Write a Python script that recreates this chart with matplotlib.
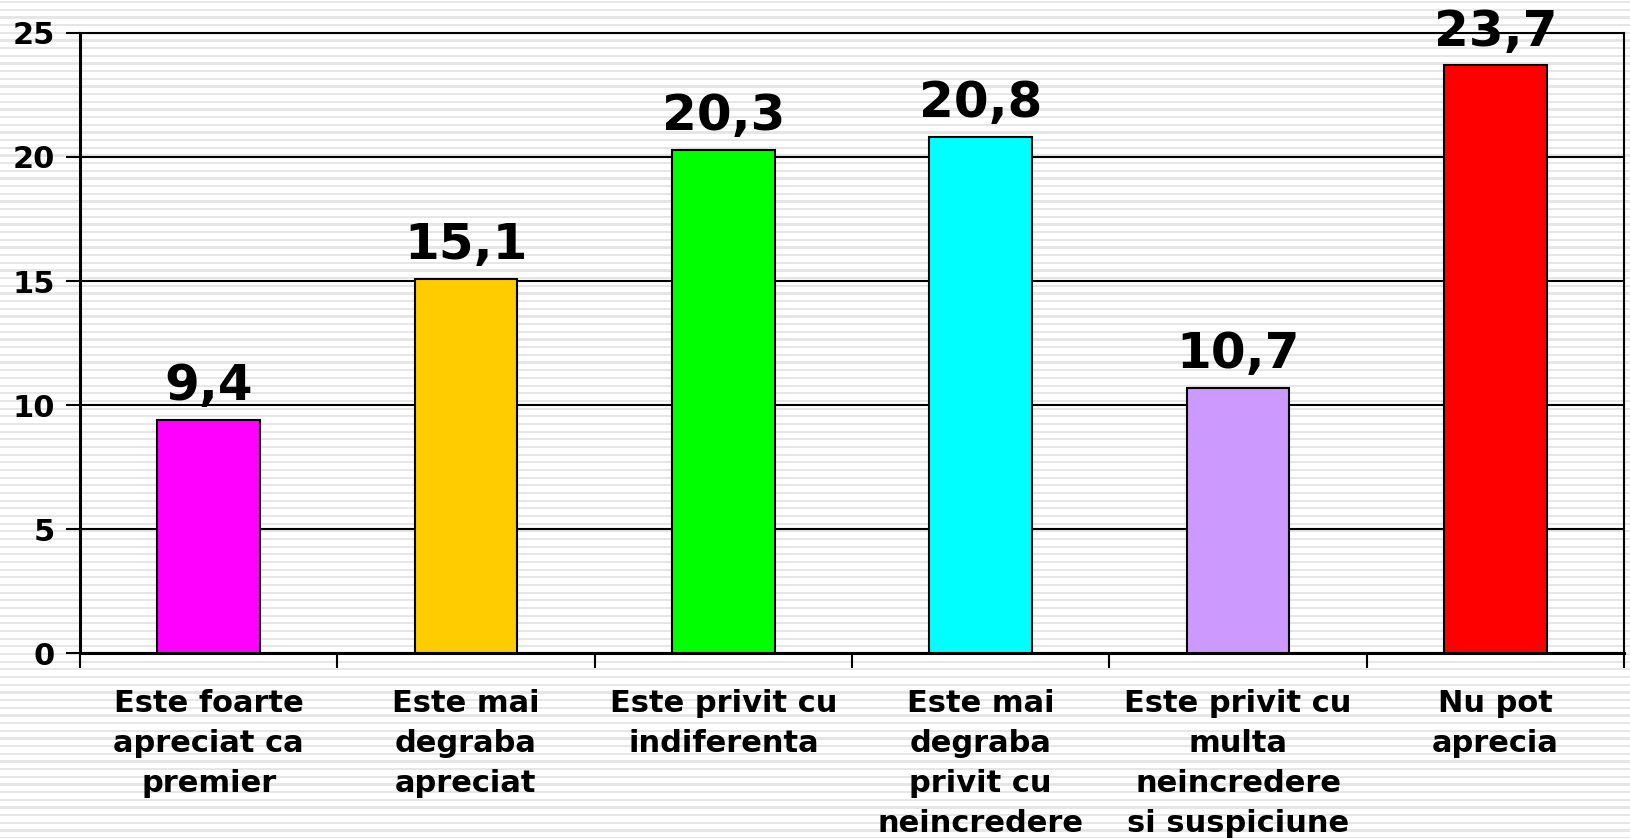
import numpy as np
import matplotlib.pyplot as plt

categories = [
    "Este foarte\napreciat ca\npremier",
    "Este mai\ndegraba\napreciat",
    "Este privit cu\nindiferenta",
    "Este mai\ndegraba\nprivit cu\nneincredere",
    "Este privit cu\nmulta\nneincredere\nsi suspiciune",
    "Nu pot\naprecia",
]
values = [9.4, 15.1, 20.3, 20.8, 10.7, 23.7]
colors = ["#FF00FF", "#FFCC00", "#00FF00", "#00FFFF", "#CC99FF", "#FF0000"]
y_ticks = [0, 5, 10, 15, 20, 25]

W, H = 1630, 838
fig = plt.figure(figsize=(W / 100, H / 100), dpi=100)

# striped background over the whole figure
bg = fig.add_axes([0, 0, 1, 1], zorder=-1)
bg.set_xlim(0, 1)
bg.set_ylim(H, 0)
for y in np.arange(1.0, H, 7.67):
    bg.axhspan(y, y + 2.2, color="#e6e6e6", lw=0)
bg.axis("off")

ax = fig.add_axes([80 / W, 1 - 653 / H, (1624 - 80) / W, (653 - 33) / H])
ax.patch.set_alpha(0)

x = np.arange(len(values))
ax.bar(x, values, width=0.4, color=colors, edgecolor="black", linewidth=1.5, zorder=3)

for xi, v in zip(x, values):
    ax.annotate(
        f"{v:.1f}".replace(".", ","),
        xy=(xi, v),
        xytext=(0, 7),
        textcoords="offset points",
        ha="center",
        va="bottom",
        fontsize=36,
        fontweight="bold",
        annotation_clip=False,
        zorder=5,
    )

ax.set_xlim(-0.5, len(values) - 0.5)
ax.set_ylim(0, 25)
ax.set_yticks(y_ticks)
ax.set_yticklabels([str(t) for t in y_ticks], fontsize=22, fontweight="bold")
ax.yaxis.grid(True, color="black", linewidth=1.5, zorder=1)
ax.set_axisbelow(True)

ax.set_xticks(np.arange(-0.5, len(values), 1.0))
ax.set_xticklabels([])
ax.set_xticks(x, minor=True)
ax.set_xticklabels(categories, minor=True, fontsize=22, fontweight="bold",
                   linespacing=1.48, va="top", ha="center")
ax.tick_params(axis="x", which="major", length=11, width=1.5, direction="out")
ax.tick_params(axis="x", which="minor", length=0, pad=26)
ax.tick_params(axis="y", length=10, width=1.5, direction="out", pad=8)

ax.spines["left"].set_linewidth(2.2)
ax.spines["bottom"].set_linewidth(2.2)
ax.spines["right"].set_linewidth(1.5)
ax.spines["top"].set_linewidth(1.5)

fig.savefig("out.png", dpi=100)
